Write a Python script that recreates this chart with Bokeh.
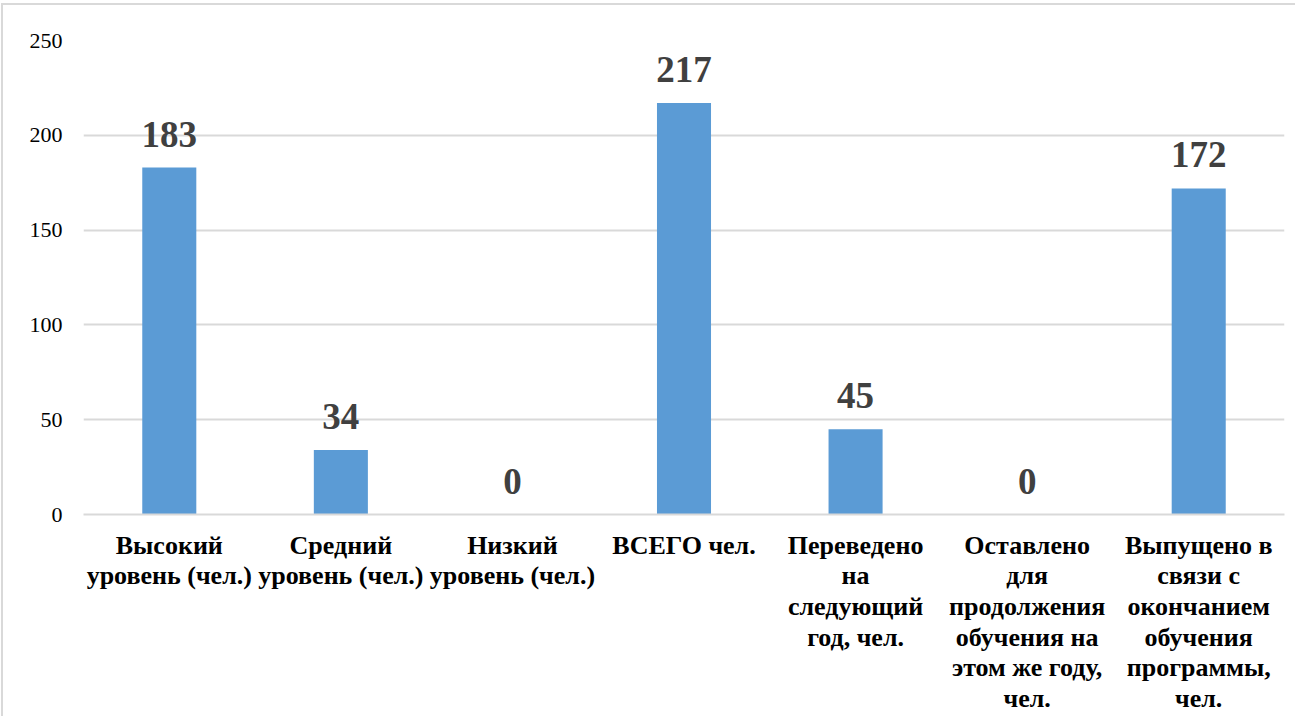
from bokeh.plotting import figure
from bokeh.models import ColumnDataSource, FactorRange, Range1d, SingleIntervalTicker
from bokeh.core.properties import value
from bokeh.embed import file_html
from bokeh.resources import INLINE

categories = [
    "Высокий\nуровень (чел.)",
    "Средний\nуровень (чел.)",
    "Низкий\nуровень (чел.)",
    "ВСЕГО чел.",
    "Переведено\nна\nследующий\nгод, чел.",
    "Оставлено\nдля\nпродолжения\nобучения на\nэтом же году,\nчел.",
    "Выпущено в\nсвязи с\nокончанием\nобучения\nпрограммы,\nчел.",
]
values = [183, 34, 0, 217, 45, 0, 172]
labels = [str(v) for v in values]

FONT = "Liberation Serif"
AXIS_FONT = "Times New Roman"

src = ColumnDataSource(dict(cat=categories, val=values, lab=labels))

p = figure(
    x_range=FactorRange(*categories, range_padding=0),
    y_range=Range1d(0, 250),
    frame_width=1201, frame_height=474,
    output_backend="svg", toolbar_location=None,
    min_border_left=80, min_border_right=11, min_border_top=35, min_border_bottom=5,
)
p.styles = {"border-left": "2px solid #d9d9d9", "border-top": "2px solid #d9d9d9",
            "margin-top": "3px", "margin-left": "1px"}

p.vbar(x="cat", top="val", width=0.315, source=src, color="#5B9BD5", line_color=None)
p.text(x="cat", y="val", text="lab", source=src, text_align="center",
       text_baseline="bottom", y_offset=-21,
       text_font=value(FONT), text_font_size="37px", text_font_style="bold",
       text_color="#404040")

p.outline_line_color = None
p.xgrid.grid_line_color = None
p.ygrid.grid_line_color = "#d9d9d9"
p.ygrid.grid_line_width = 2

yax = p.yaxis[0]
yax.ticker = SingleIntervalTicker(interval=50)
yax.axis_line_color = None
yax.major_tick_line_color = None
yax.minor_tick_line_color = None
yax.major_label_text_font = AXIS_FONT
yax.major_label_text_font_size = "22px"
yax.major_label_text_color = "#000000"
yax.major_label_standoff = 15

xax = p.xaxis[0]
xax.axis_line_color = "#d9d9d9"
xax.axis_line_width = 2
xax.major_tick_line_color = None
xax.minor_tick_line_color = None
xax.major_label_text_font = AXIS_FONT
xax.major_label_text_font_size = "26px"
xax.major_label_text_font_style = "bold"
xax.major_label_text_color = "#000000"
xax.major_label_text_line_height = 1.06
xax.major_label_standoff = 10
xax.major_label_orientation = "horizontal"

open("out.html", "w").write(file_html(p, INLINE))
